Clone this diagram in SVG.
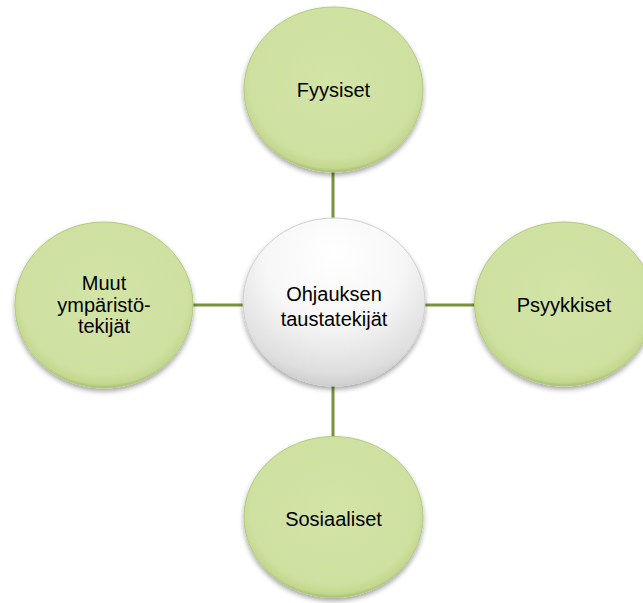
<svg xmlns="http://www.w3.org/2000/svg" width="643" height="603" viewBox="0 0 643 603">
<defs>
<radialGradient id="gGreen" cx="0.5" cy="0.45" r="0.55">
<stop offset="0" stop-color="#d2e4a6"/>
<stop offset="0.85" stop-color="#cfe1a1"/>
<stop offset="0.96" stop-color="#c2d78e"/>
<stop offset="1" stop-color="#a6bf6e"/>
</radialGradient>
<radialGradient id="gWhite" cx="0.5" cy="0.3" r="0.75" fx="0.5" fy="0.2">
<stop offset="0" stop-color="#ffffff"/>
<stop offset="0.5" stop-color="#f7f7f7"/>
<stop offset="0.85" stop-color="#dedede"/>
<stop offset="1" stop-color="#c4c4c4"/>
</radialGradient>
<filter id="shadow" x="-20%" y="-20%" width="140%" height="140%">
<feDropShadow dx="0" dy="3" stdDeviation="2.5" flood-color="#000" flood-opacity="0.35"/>
</filter>
</defs>
<style>
.conn{stroke:#77933c;stroke-width:3;fill:none}
.leaf{fill:url(#gGreen);stroke:#b3ca7e;stroke-width:1;filter:url(#shadow)}
.hub{fill:url(#gWhite);stroke:#d0d0d0;stroke-width:1;filter:url(#shadow)}
.lbl{font-family:"Liberation Sans",Arial,sans-serif;font-size:20px;fill:#000;text-anchor:middle}
</style>
<g id="connectors">
<line class="conn" x1="333" y1="170" x2="333" y2="220"/>
<line class="conn" x1="333" y1="385" x2="333" y2="439"/>
<line class="conn" x1="190" y1="305" x2="247" y2="305"/>
<line class="conn" x1="420" y1="305" x2="477" y2="305"/>
</g>
<g id="node-fyysiset">
<ellipse class="leaf" cx="333.5" cy="89.5" rx="89.5" ry="82.5"/>
<text class="lbl" x="333.5" y="97">Fyysiset</text>
</g>
<g id="node-psyykkiset">
<ellipse class="leaf" cx="564" cy="304" rx="89.5" ry="82"/>
<text class="lbl" x="564" y="311.5">Psyykkiset</text>
</g>
<g id="node-sosiaaliset">
<ellipse class="leaf" cx="333.5" cy="517" rx="89.5" ry="80.5"/>
<text class="lbl" x="333.5" y="526">Sosiaaliset</text>
</g>
<g id="node-muut">
<ellipse class="leaf" cx="104" cy="305" rx="89" ry="83"/>
<text class="lbl" x="104" y="290">Muut</text>
<text class="lbl" x="104" y="311.5">ympäristö-</text>
<text class="lbl" x="104" y="333">tekijät</text>
</g>
<g id="node-center">
<ellipse class="hub" cx="334" cy="302" rx="91" ry="84"/>
<text class="lbl" x="334" y="301">Ohjauksen</text>
<text class="lbl" x="334" y="326">taustatekijät</text>
</g>
</svg>
